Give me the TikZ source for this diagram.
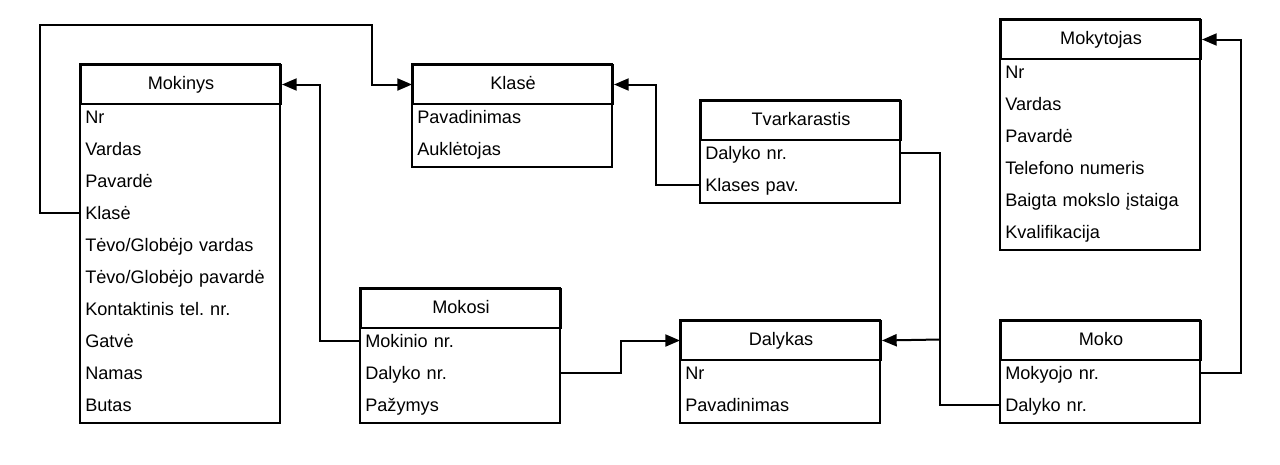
\documentclass[tikz,border=0pt]{standalone}
\usepackage{fontspec}
\setmainfont{Liberation Sans}
\usetikzlibrary{arrows.meta}
\begin{document}
\frenchspacing
\begin{tikzpicture}[x=0.75pt,y=-0.75pt,
  every node/.style={font=\fontsize{13.6}{15}\selectfont},
  hdr/.style={draw,line width=1.5pt,minimum width=150pt,minimum height=29.25pt,inner sep=0pt,anchor=north west,text height=10pt,text depth=2.6pt},
  rowbox/.style={minimum width=150pt,minimum height=24pt,inner xsep=3.75pt,inner ysep=0pt,text width=142.5pt,align=left,anchor=north west,text height=11pt,text depth=2pt},
  outline/.style={draw,line width=1.5pt},
  conn/.style={draw,line width=1.5pt},
  arr/.style={conn,-{Triangle[length=11pt,width=9pt]}}]
\useasboundingbox (0,0) rectangle (1280,464);
\fill[white] (0,0) rectangle (1280,464);

% Mokinys
\draw[outline] (80,64) rectangle (280,423);
\node[hdr] (mokinys) at (80,64) {Mokinys};
\node[rowbox] (mk1) at (80,101) {Nr};
\node[rowbox] (mk2) at (80,133) {Vardas};
\node[rowbox] (mk3) at (80,165) {Pavardė};
\node[rowbox] (mk4) at (80,197) {Klasė};
\node[rowbox] (mk5) at (80,229) {Tėvo/Globėjo vardas};
\node[rowbox] (mk6) at (80,261) {Tėvo/Globėjo pavardė};
\node[rowbox] (mk7) at (80,293) {Kontaktinis tel. nr.};
\node[rowbox] (mk8) at (80,325) {Gatvė};
\node[rowbox] (mk9) at (80,357) {Namas};
\node[rowbox] (mk10) at (80,389) {Butas};

% Klase
\draw[outline] (412,64) rectangle (612,167);
\node[hdr] (klase) at (412,64) {Klasė};
\node[rowbox] (kl1) at (412,101) {Pavadinimas};
\node[rowbox] (kl2) at (412,133) {Auklėtojas};

% Tvarkarastis
\draw[outline] (700,100) rectangle (900,203);
\node[hdr] (tv) at (700,100) {Tvarkarastis};
\node[rowbox] (tv1) at (700,137) {Dalyko nr.};
\node[rowbox] (tv2) at (700,169) {Klases pav.};

% Mokytojas
\draw[outline] (1000,19) rectangle (1200,250);
\node[hdr] (mokytojas) at (1000,19) {Mokytojas};
\node[rowbox] (mt1) at (1000,56) {Nr};
\node[rowbox] (mt2) at (1000,88) {Vardas};
\node[rowbox] (mt3) at (1000,120) {Pavardė};
\node[rowbox] (mt4) at (1000,152) {Telefono numeris};
\node[rowbox] (mt5) at (1000,184) {Baigta mokslo įstaiga};
\node[rowbox] (mt6) at (1000,216) {Kvalifikacija};

% Mokosi
\draw[outline] (360,288) rectangle (560,423);
\node[hdr] (mokosi) at (360,288) {Mokosi};
\node[rowbox] (ms1) at (360,325) {Mokinio nr.};
\node[rowbox] (ms2) at (360,357) {Dalyko nr.};
\node[rowbox] (ms3) at (360,389) {Pažymys};

% Dalykas
\draw[outline] (680,320) rectangle (880,423);
\node[hdr] (dalykas) at (680,320) {Dalykas};
\node[rowbox] (dl1) at (680,357) {Nr};
\node[rowbox] (dl2) at (680,389) {Pavadinimas};

% Moko
\draw[outline] (1000,320) rectangle (1200,423);
\node[hdr] (moko) at (1000,320) {Moko};
\node[rowbox] (mo1) at (1000,357) {Mokyojo nr.};
\node[rowbox] (mo2) at (1000,389) {Dalyko nr.};

% connectors
\coordinate (c1) at (40,25);
\coordinate (c2) at (372,25);
\draw[arr] (mk4.west) -| (c1) -- (c2) |- (klase.west);
\draw[arr] (ms1.west) -- ++(-40,0) |- (mokinys.east);
\draw[arr] (tv2.west) -- ++(-44,0) |- (klase.east);
\coordinate (j) at (940,339.5);
\draw[conn] (tv1.east) -| (j) |- (mo2.west);
\draw[arr] (j) -- (dalykas.east);
\draw[arr] (ms2.east) -- ++(60,0) |- (dalykas.west);
\draw[arr] (mo1.east) -- ++(40,0) |- (mokytojas.east);
\end{tikzpicture}
\end{document}
